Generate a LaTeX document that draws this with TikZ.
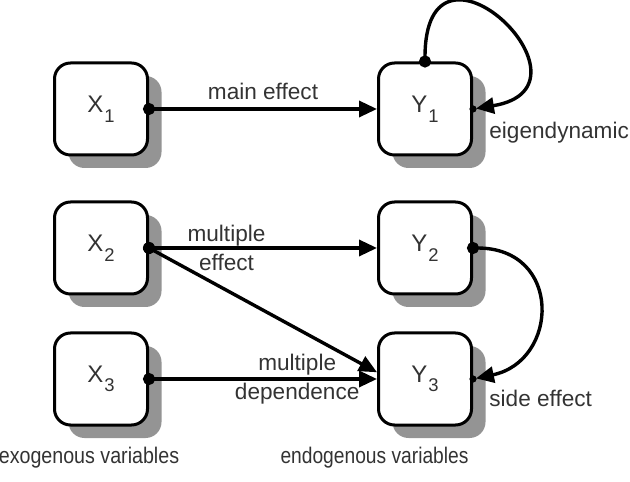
\documentclass[tikz,border=0pt]{standalone}
\usepackage{fontspec}
\setmainfont{Liberation Sans}
\usepackage{tikz}
\usetikzlibrary{arrows.meta,shadows}

\newcommand{\vsub}[1]{\kern0.5pt\raisebox{-0.75ex}{\fontsize{9.2}{10}\selectfont #1}}

\begin{document}
\begin{tikzpicture}[x=0.5pt, y=0.5pt,
        var/.style={draw, line width=1.5pt, rounded corners=8pt, fill=white,
            minimum width=46.5pt, minimum height=46pt, inner sep=0pt,
            font=\fontsize{12}{14}\selectfont, text=black!80,
            general shadow={fill=black!42, shadow xshift=7pt, shadow yshift=-6.5pt}},
        link/.style={line width=1.7pt, {Circle[length=6pt]}-{Triangle[length=9pt,width=8pt]}, shorten <=-3pt},
        lbl/.style={text=black!80, font=\fontsize{11.3}{14.5}\selectfont, align=center, inner sep=0pt}]

        \useasboundingbox (0,0) rectangle (630,481);

        \node[var] (X1) at (101,372) {X\vsub{1}};
        \node[var] (X2) at (101,233) {X\vsub{2}};
        \node[var] (X3) at (101,102) {X\vsub{3}};

        \node[var] (Y1) at (425,372) {Y\vsub{1}};
        \node[var] (Y2) at (425,233) {Y\vsub{2}};
        \node[var] (Y3) at (425,102) {Y\vsub{3}};

        \draw[link] (X1.east) -- (Y1.west) node[lbl, pos=0.5, above=4pt]{main effect};

        \draw[link] (X2.east) -- (Y2.west) node[lbl, pos=0.34]{multiple\\effect};

        \draw[link] (X2.east) -- (Y3.172);

        \draw[link] (X3.east) -- (Y3.west) node[lbl, pos=0.65]{multiple\\dependence};

        % eigendynamic and side effect
        \draw[link, shorten >=1.5pt] (Y1.north) .. controls +(0,150) and +(135,22) .. (Y1.east);
        \fill (Y1.east) circle (1.8pt);

        \draw[link, shorten >=1.5pt] (Y2.east) .. controls +(90,0) and +(86,18) .. (Y3.east);
        \fill (Y3.east) circle (1.8pt);

        \node[lbl, anchor=west] (eig) at ([xshift=8pt,yshift=-12pt]Y1.east) {eigendynamic};
        \node[lbl, anchor=west] (side) at ([xshift=8pt,yshift=-9.5pt]Y3.east) {side effect};

        \node[lbl] (exo) at (89,23) {\scalebox{0.87}[1]{exogenous variables}};
        \node[lbl] (endo) at (374.5,23) {\scalebox{0.85}[1]{endogenous variables}};

    \end{tikzpicture}
\end{document}
